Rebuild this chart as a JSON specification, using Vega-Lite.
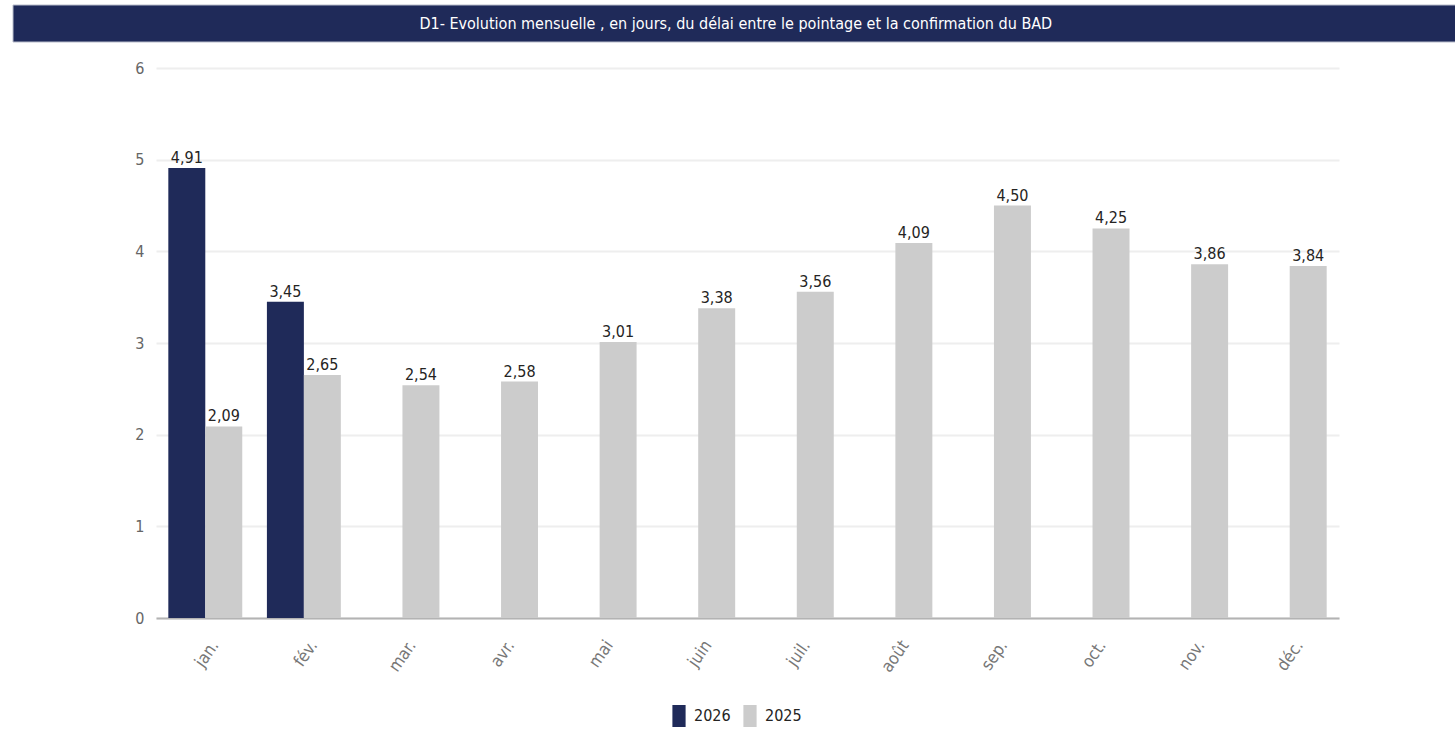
{
  "$schema": "https://vega.github.io/schema/vega-lite/v6.json",
  "background": "white",
  "padding": {"left": 12, "top": 4, "right": 0, "bottom": 0},
  "columns": 1,
  "spacing": 17,
  "config": {
    "locale": {"number": {"decimal": ",", "thousands": " ", "grouping": [3], "currency": ["", " €"]}},
    "font": "DejaVu Sans Condensed, Liberation Sans, sans-serif",
    "view": {"stroke": null},
    "legend": {"layout": {"bottom": {"anchor": "middle"}}}
  },
  "datasets": {
    "vals": [
      {"mois": "jan.", "annee": "2026", "delai": 4.91},
      {"mois": "fév.", "annee": "2026", "delai": 3.45},
      {"mois": "jan.", "annee": "2025", "delai": 2.09},
      {"mois": "fév.", "annee": "2025", "delai": 2.65},
      {"mois": "mar.", "annee": "2025", "delai": 2.54},
      {"mois": "avr.", "annee": "2025", "delai": 2.58},
      {"mois": "mai", "annee": "2025", "delai": 3.01},
      {"mois": "juin", "annee": "2025", "delai": 3.38},
      {"mois": "juil.", "annee": "2025", "delai": 3.56},
      {"mois": "août", "annee": "2025", "delai": 4.09},
      {"mois": "sep.", "annee": "2025", "delai": 4.50},
      {"mois": "oct.", "annee": "2025", "delai": 4.25},
      {"mois": "nov.", "annee": "2025", "delai": 3.86},
      {"mois": "déc.", "annee": "2025", "delai": 3.84}
    ]
  },
  "concat": [
    {
      "width": 1300,
      "height": 37,
      "data": {"values": [{"t": "D1- Evolution mensuelle , en jours, du délai entre le pointage et la confirmation du BAD", "x0": -0.11, "x1": 1, "y0": 0, "y1": 1, "px": 0.446, "py": 0.5}]},
      "encoding": {
        "y": {"field": "y0", "type": "quantitative", "scale": {"domain": [0, 1]}, "axis": null}
      },
      "layer": [
        {
          "mark": {"type": "rect", "color": "#1f2a59", "stroke": "#b8bccb", "strokeWidth": 1, "clip": false},
          "encoding": {
            "x": {"field": "x0", "type": "quantitative", "scale": {"domain": [0, 1]}, "axis": null},
            "x2": {"field": "x1"},
            "y2": {"field": "y1"}
          }
        },
        {
          "mark": {"type": "text", "color": "white", "fontSize": 16, "align": "center", "baseline": "middle"},
          "encoding": {
            "x": {"field": "px", "type": "quantitative", "scale": {"domain": [0, 1]}, "axis": null},
            "y": {"field": "py", "type": "quantitative"},
            "text": {"field": "t"}
          }
        }
      ]
    },
    {
      "width": 1183,
      "height": 550,
      "data": {"name": "vals"},
      "encoding": {
        "x": {
          "field": "mois", "type": "nominal",
          "sort": ["jan.", "fév.", "mar.", "avr.", "mai", "juin", "juil.", "août", "sep.", "oct.", "nov.", "déc."],
          "scale": {"paddingInner": 0.25, "paddingOuter": 0.125},
          "axis": {"title": null, "labelAngle": -55, "labelColor": "#777777", "labelFontSize": 17, "labelPadding": 24, "labelOffset": 10, "ticks": false, "domainColor": "#b3b3b3", "domainWidth": 2}
        },
        "xOffset": {"field": "annee", "type": "nominal", "sort": ["2026", "2025"], "scale": {"domain": ["2026", "2025"], "paddingInner": 0, "paddingOuter": 0}},
        "y": {
          "field": "delai", "type": "quantitative",
          "scale": {"domain": [0, 6]},
          "axis": {"title": null, "values": [0, 1, 2, 3, 4, 5, 6], "labelColor": "#666666", "labelFontSize": 16, "labelPadding": 12, "ticks": false, "domain": false, "gridColor": "#eeeeee", "gridWidth": 2, "minExtent": 143}
        }
      },
      "layer": [
        {
          "mark": {"type": "bar"},
          "encoding": {
            "color": {
              "field": "annee", "type": "nominal", "sort": ["2026", "2025"],
              "scale": {"domain": ["2026", "2025"], "range": ["#1f2a59", "#cccccc"]},
              "legend": {"title": null, "orient": "bottom", "direction": "horizontal", "labelFontSize": 16, "labelColor": "#252423", "symbolType": "M-0.6,-1H0.6V1H-0.6Z", "symbolSize": 484, "symbolStrokeWidth": 0, "columnPadding": 8, "labelOffset": 4, "offset": 30}
            }
          }
        },
        {
          "mark": {"type": "text", "baseline": "bottom", "dy": -2, "fontSize": 16, "color": "#252423"},
          "encoding": {"text": {"field": "delai", "type": "quantitative", "format": ".2f"}}
        }
      ]
    }
  ]
}
